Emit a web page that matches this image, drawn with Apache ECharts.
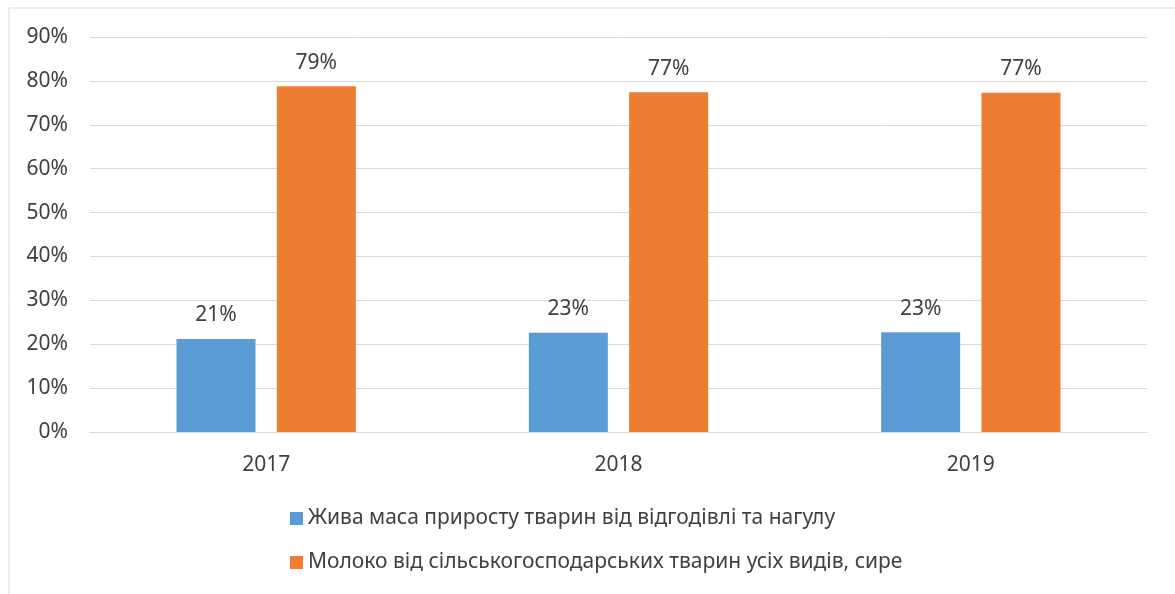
<!DOCTYPE html>
<html>
<head>
<meta charset="utf-8">
<script src="https://cdn.jsdelivr.net/npm/echarts@6/dist/echarts.min.js"></script>
<style>
  html, body { margin: 0; padding: 0; background: #fff; }
  #chart { width: 1175px; height: 594px; }
</style>
</head>
<body>
<div id="chart"></div>
<script>
// datos
var anios = ['2017', '2018', '2019'];
var nombreSerie1 = 'Жива маса приросту тварин від відгодівлі та нагулу';
var nombreSerie2 = 'Молоко від сільськогосподарських тварин усіх видів, сире';
var datos1 = [21.2, 22.6, 22.7];
var datos2 = [78.8, 77.4, 77.3];

var fuente = 'Noto Sans';
var colorTexto = '#404040';
var tamTexto = 21;

var myChart = echarts.init(document.getElementById('chart'));

function etiqueta() {
    return {
        show: true,
        position: 'top',
        distance: 13,
        fontFamily: fuente,
        fontSize: tamTexto,
        color: colorTexto,
        formatter: function (p) { return Math.round(p.value) + '%'; }
    };
}

myChart.setOption({
    animation: false,
    textStyle: { fontFamily: fuente },
    graphic: [
        {
            type: 'rect',
            shape: { x: 9, y: 8, width: 1200, height: 700 },
            style: { fill: 'none', stroke: '#d9d9d9', lineWidth: 1 }
        }
    ],
    legend: {
        orient: 'vertical',
        left: 285,
        top: 503,
        itemGap: 23,
        itemWidth: 13,
        itemHeight: 13,
        icon: 'rect',
        textStyle: { fontFamily: fuente, fontSize: tamTexto, color: colorTexto }
    },
    grid: {
        left: 90,
        right: 28,
        top: 37,
        bottom: 162
    },
    xAxis: {
        type: 'category',
        data: anios,
        axisTick: { show: false },
        axisLine: { lineStyle: { color: '#d9d9d9' } },
        axisLabel: { margin: 23, fontFamily: fuente, fontSize: tamTexto, color: colorTexto }
    },
    yAxis: {
        type: 'value',
        min: 0,
        max: 90,
        interval: 10,
        axisLabel: {
            margin: 22,
            fontFamily: fuente,
            fontSize: tamTexto,
            color: colorTexto,
            formatter: '{value}%'
        },
        splitLine: { lineStyle: { color: '#d9d9d9' } }
    },
    series: [
        {
            name: nombreSerie1,
            type: 'bar',
            barWidth: 79,
            barGap: '27%',
            itemStyle: { color: '#5B9BD5' },
            label: etiqueta(),
            data: datos1
        },
        {
            name: nombreSerie2,
            type: 'bar',
            barWidth: 79,
            barGap: '27%',
            itemStyle: { color: '#ED7D31' },
            label: etiqueta(),
            data: datos2
        }
    ]
});
</script>
</body>
</html>
